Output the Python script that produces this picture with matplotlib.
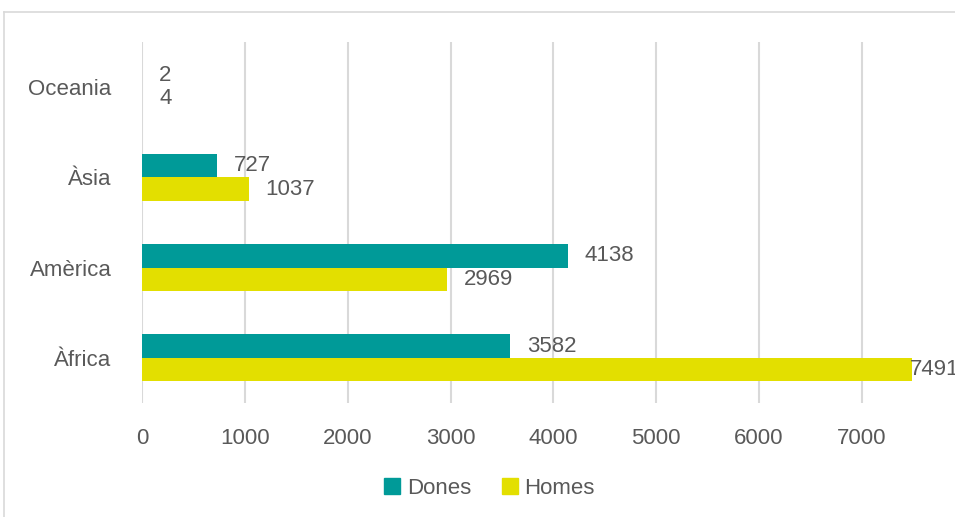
import matplotlib
matplotlib.use('Agg')
import matplotlib.pyplot as plt
import numpy as np
from matplotlib.patches import Patch
from matplotlib.lines import Line2D

# Dati
regions = ['Àfrica', 'Amèrica', 'Àsia', 'Oceania']
dones = [3582, 4138, 727, 2]
homes = [7491, 2969, 1037, 4]
xticks = [0, 1000, 2000, 3000, 4000, 5000, 6000, 7000]

teal = '#009A98'
yellow = '#E3DF00'
grey_txt = '#595959'

plt.rcParams['font.family'] = ['Liberation Sans', 'DejaVu Sans']

fig = plt.figure(figsize=(9.55, 5.17), dpi=100)
W, H = 955, 517

# asse: 0 a x=142px, 8000 fuori dalla figura (tagliato a destra)
left = 142 / W
right = (142 + 8 * 102.84) / W
ax = fig.add_axes([left, 1 - 403 / H, right - left, (403 - 42) / H])

y = np.arange(len(regions))
h = 0.26
ax.barh(y + h / 2, dones, height=h, color=teal, label='Dones')
ax.barh(y - h / 2, homes, height=h, color=yellow, label='Homes')

ax.set_xlim(0, 8000)
ax.set_ylim(-0.5, len(regions) - 0.5)
ax.set_xticks(xticks)
ax.set_xticklabels([str(t) for t in xticks])
ax.set_yticks(y)
ax.set_yticklabels(regions)
ax.tick_params(axis='x', length=0, pad=18, labelsize=16, labelcolor=grey_txt)
ax.tick_params(axis='y', length=0, pad=22, labelsize=16, labelcolor=grey_txt)
for s in ax.spines.values():
    s.set_visible(False)
ax.grid(axis='x', color='#D9D9D9', linewidth=1.5)
ax.set_axisbelow(True)

# etichette dei valori
for vals, off in [(dones, h / 2), (homes, -h / 2)]:
    for yi, v in zip(y, vals):
        dx = 12 if v < 7000 else -2
        ax.annotate(str(v), (v, yi + off), xytext=(dx, 0), textcoords='offset points',
                    ha='left', va='center', fontsize=16, color=grey_txt)

# legenda
handles = [Patch(color=teal, label='Dones'), Patch(color=yellow, label='Homes')]
fig.legend(handles=handles, loc='center', bbox_to_anchor=(489.5 / W, 1 - 488 / H),
           ncol=2, frameon=False, fontsize=16, handlelength=0.7, handleheight=0.7,
           handletextpad=0.3, columnspacing=1.4, labelcolor=grey_txt)

# bordo del grafico (solo sinistra e sopra visibili)
fig.add_artist(Line2D([4 / W, 4 / W], [0, 1 - 12 / H], color='#D9D9D9', linewidth=1.2))
fig.add_artist(Line2D([4 / W, 1], [1 - 12 / H, 1 - 12 / H], color='#D9D9D9', linewidth=1.2))

fig.savefig('out.png', dpi=100)
